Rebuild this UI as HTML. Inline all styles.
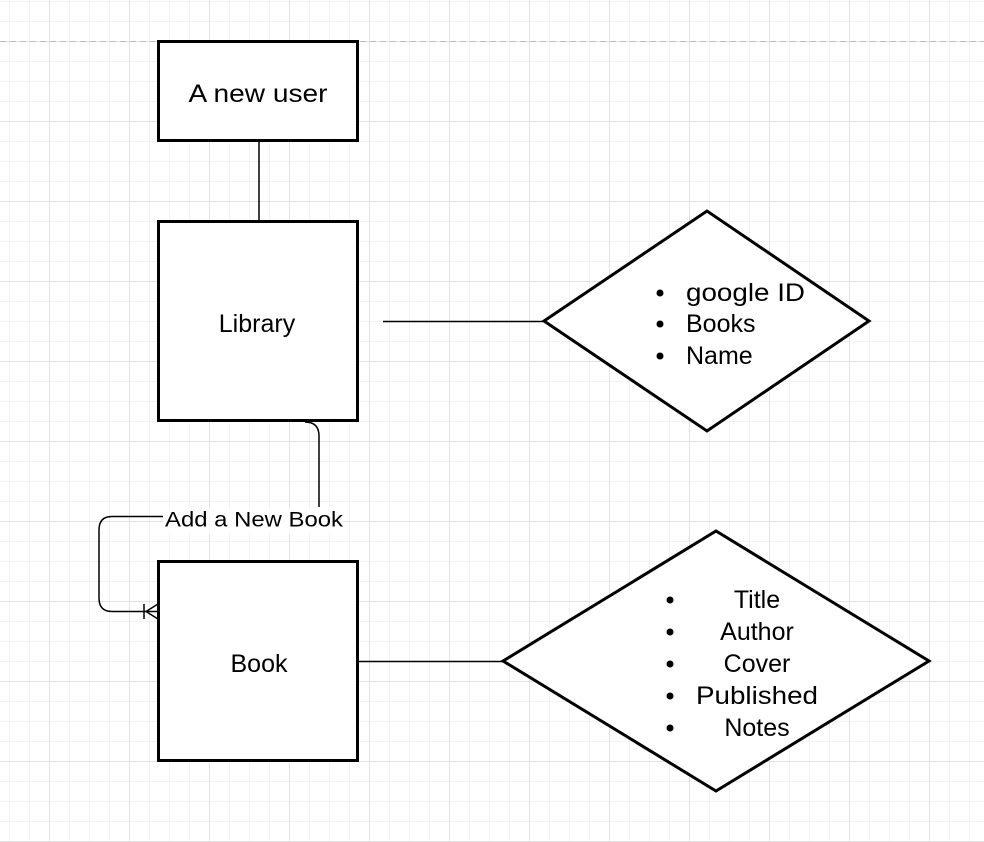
<!DOCTYPE html>
<html><head><style>
body{margin:0;width:984px;height:842px;overflow:hidden;background:#fff;
background-image:
linear-gradient(#e2e2e2 1px,transparent 1px),linear-gradient(90deg,#e2e2e2 1px,transparent 1px),
linear-gradient(#f2f2f2 1px,transparent 1px),linear-gradient(90deg,#f2f2f2 1px,transparent 1px);
background-size:80px 80px,80px 80px,20px 20px,20px 20px;
background-position:0 41px,49px 0,0 1px,9px 0;}
svg{position:absolute;left:0;top:0}
text{font-family:"Liberation Sans",sans-serif;fill:#000}
</style></head><body>
<svg width="984" height="842" viewBox="0 0 984 842">
<line x1="0" y1="41.5" x2="984" y2="41.5" stroke="#bbb" stroke-dasharray="6,4"/>
<g fill="#fff" stroke="#000" stroke-width="3">
<rect x="158.5" y="41.5" width="199" height="99"/>
<rect x="158.5" y="221.5" width="199" height="199"/>
<rect x="158.5" y="561.5" width="199" height="199"/>
<polygon points="544,321 707,211 869,321 707,431"/>
<polygon points="503,661 716,531 929,661 716,791"/>
</g>
<g stroke="#000" stroke-width="1.5" fill="none">
<line x1="259" y1="141" x2="259" y2="221"/>
<line x1="383" y1="321.5" x2="544" y2="321.5"/>
<line x1="358" y1="661.5" x2="503" y2="661.5"/>
<path d="M305 422 Q319 422 319 436 L319 507"/>
<path d="M163 516.5 L112 516.5 Q99 516.5 99 530 L99 598 Q99 611.5 112 611.5 L158 611.5"/>
<line x1="144" y1="604" x2="144" y2="619"/>
<path d="M146 611.5 L158 604 M146 611.5 L158 619"/>
</g>
<rect x="163" y="508" width="181" height="26" fill="#fff" opacity="0.85"/>
<text x="254" y="521" font-size="21.5" text-anchor="middle" dominant-baseline="middle" textLength="178" lengthAdjust="spacingAndGlyphs">Add a New Book</text>
<g font-size="25" text-anchor="middle">
<text x="258" y="102" textLength="139" lengthAdjust="spacingAndGlyphs">A new user</text>
<text x="257" y="332">Library</text>
<text x="259" y="672">Book</text>
</g>
<g font-size="25">
<text x="686" y="301" textLength="119" lengthAdjust="spacingAndGlyphs">google ID</text>
<text x="686" y="332">Books</text>
<text x="686" y="364">Name</text>
<circle cx="660" cy="293" r="3.5"/><circle cx="660" cy="324" r="3.5"/><circle cx="660" cy="356" r="3.5"/>
</g>
<g font-size="25" text-anchor="middle">
<text x="757" y="608">Title</text>
<text x="757" y="640">Author</text>
<text x="757" y="672">Cover</text>
<text x="757" y="704" textLength="122" lengthAdjust="spacingAndGlyphs">Published</text>
<text x="757" y="736">Notes</text>
</g>
<g><circle cx="670" cy="600" r="3.5"/><circle cx="670" cy="632" r="3.5"/><circle cx="670" cy="664" r="3.5"/><circle cx="670" cy="696" r="3.5"/><circle cx="670" cy="728" r="3.5"/></g>
</svg>
</body></html>
